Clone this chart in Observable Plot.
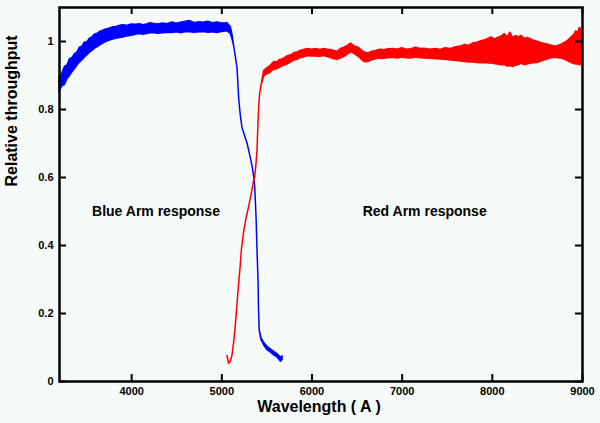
<!DOCTYPE html>
<html>
<head>
<meta charset="utf-8">
<script src="https://cdn.jsdelivr.net/npm/d3@7"></script>
<script src="https://cdn.jsdelivr.net/npm/@observablehq/plot@0.6"></script>
<style>
  html, body { margin: 0; padding: 0; background: #f6fbf9; }
</style>
</head>
<body>
<div id="chart"></div>
<script>
// Blue arm: wavelength, lower and upper envelope of the noisy trace
const blueWl = [3200,3230,3260,3290,3315,3345,3370,3400,3426,3455,3480,3510,3537,3565,3590,3620,3648,3675,3700,3730,3759,3795,3830,3870,3908,3950,4000,4045,4092,4130,4170,4210,4241,4290,4350,4400,4450,4500,4550,4600,4650,4700,4750,4800,4850,4900,4950,5000,5063,5100,5120,5137,5155,5174,5193,5211,5230,5260,5285,5315,5341,5360,5370,5385,5396,5407,5412,5420,5440,5470,5507,5550,5581,5620,5656,5674];
const blueLo = [0.850,0.868,0.872,0.890,0.898,0.910,0.918,0.930,0.938,0.945,0.952,0.960,0.967,0.972,0.978,0.983,0.988,0.992,0.996,1.000,1.003,1.006,1.008,1.010,1.012,1.015,1.017,1.020,1.022,1.020,1.022,1.024,1.025,1.023,1.024,1.026,1.025,1.027,1.024,1.028,1.027,1.026,1.027,1.028,1.026,1.027,1.025,1.028,1.030,1.022,1.005,0.986,0.955,0.922,0.830,0.780,0.745,0.720,0.700,0.665,0.632,0.600,0.573,0.484,0.386,0.298,0.220,0.150,0.122,0.106,0.092,0.084,0.077,0.070,0.058,0.063];
const blueHi = [0.895,0.905,0.925,0.930,0.948,0.952,0.962,0.968,0.982,0.985,0.997,0.998,1.008,1.012,1.020,1.022,1.028,1.030,1.034,1.036,1.038,1.042,1.043,1.046,1.048,1.046,1.050,1.049,1.051,1.048,1.050,1.054,1.052,1.050,1.053,1.051,1.056,1.052,1.055,1.058,1.060,1.054,1.057,1.055,1.058,1.054,1.056,1.053,1.054,1.042,1.018,0.986,0.955,0.922,0.830,0.780,0.745,0.720,0.700,0.665,0.632,0.600,0.573,0.484,0.386,0.298,0.220,0.150,0.128,0.113,0.102,0.093,0.087,0.080,0.070,0.074];

// Red arm
const redWl = [5063,5081,5100,5118,5137,5156,5175,5193,5210,5222,5248,5275,5304,5335,5358,5370,5385,5396,5407,5415,5425,5440,5470,5500,5540,5581,5610,5640,5670,5693,5720,5750,5780,5804,5840,5870,5910,5952,6000,6040,6090,6137,6175,6210,6250,6285,6320,6360,6400,6433,6460,6490,6526,6570,6600,6630,6660,6711,6760,6800,6850,6900,6950,7000,7050,7100,7156,7200,7250,7310,7378,7430,7480,7540,7600,7650,7700,7740,7785,7830,7870,7920,7960,7989,8030,8060,8100,8137,8170,8200,8230,8260,8300,8322,8360,8400,8450,8507,8550,8600,8650,8693,8730,8760,8804,8840,8878,8910,8930,8950,8970,8990,9000];
const redLo = [0.075,0.052,0.058,0.075,0.115,0.165,0.230,0.290,0.340,0.386,0.440,0.480,0.515,0.555,0.590,0.600,0.640,0.681,0.760,0.810,0.845,0.870,0.897,0.903,0.908,0.917,0.918,0.922,0.926,0.929,0.931,0.936,0.940,0.944,0.946,0.951,0.953,0.957,0.956,0.956,0.955,0.957,0.954,0.951,0.948,0.946,0.950,0.955,0.962,0.968,0.965,0.960,0.953,0.942,0.939,0.940,0.944,0.948,0.950,0.949,0.951,0.952,0.950,0.953,0.951,0.950,0.953,0.951,0.950,0.949,0.948,0.947,0.946,0.944,0.943,0.941,0.940,0.938,0.938,0.937,0.936,0.937,0.935,0.936,0.933,0.932,0.930,0.931,0.926,0.928,0.925,0.929,0.931,0.935,0.930,0.933,0.936,0.937,0.942,0.946,0.950,0.952,0.951,0.950,0.947,0.942,0.937,0.934,0.932,0.933,0.930,0.932,0.935];
const redHi = [0.075,0.052,0.058,0.075,0.115,0.165,0.230,0.290,0.340,0.386,0.440,0.480,0.515,0.555,0.590,0.600,0.640,0.681,0.760,0.810,0.845,0.870,0.914,0.920,0.928,0.940,0.938,0.945,0.947,0.950,0.955,0.958,0.960,0.966,0.968,0.972,0.975,0.978,0.976,0.978,0.975,0.978,0.976,0.975,0.972,0.970,0.978,0.982,0.988,0.994,0.988,0.984,0.980,0.970,0.966,0.965,0.969,0.972,0.976,0.974,0.977,0.978,0.976,0.980,0.976,0.977,0.982,0.978,0.979,0.976,0.978,0.975,0.980,0.978,0.983,0.985,0.990,0.987,0.994,0.996,1.000,1.004,1.008,1.012,1.006,1.010,1.014,1.022,1.012,1.026,1.010,1.016,1.012,1.017,1.008,1.010,1.004,0.999,0.995,0.992,0.988,0.985,0.987,0.990,0.996,1.002,1.012,1.020,1.030,1.025,1.040,1.036,1.033];

// Axis ticks and annotations
const xTicks = [4000,5000,6000,7000,8000,9000];
const yTicks = [0,0.2,0.4,0.6,0.8,1];
const noteText = ["Blue Arm response","Red Arm response"];
const noteX = [4270,7250];
const noteY = [0.5,0.5];
const xLabel = "Wavelength ( A )";
const yLabel = "Relative throughput";

const xMin = 3200, xMax = 9000, yMin = 0, yMax = 1.1;

const blue = blueWl.map((w,i)=>({w, lo: blueLo[i], hi: blueHi[i]}));
const red = redWl.map((w,i)=>({w, lo: redLo[i], hi: redHi[i]}));
const notes = noteText.map((t,i)=>({t, x: noteX[i], y: noteY[i]}));

const BLUE = "#0000ff", RED = "#ff0000";
const font = "'Liberation Sans', Arial, Helvetica, sans-serif";

const chart = Plot.plot({
  width: 600,
  height: 423,
  marginLeft: 59,
  marginRight: 18,
  marginTop: 7,
  marginBottom: 42,
  x: {domain: [xMin, xMax]},
  y: {domain: [yMin, yMax]},
  style: {background: "#f6fbf9", fontFamily: font, color: "black"},
  marks: [
    Plot.areaY(blue, {x: "w", y1: "lo", y2: "hi", fill: BLUE, stroke: BLUE, strokeWidth: 1.5}),
    Plot.areaY(red, {x: "w", y1: "lo", y2: "hi", fill: RED, stroke: RED, strokeWidth: 1.5}),
    Plot.text(notes, {x: "x", y: "y", text: "t", fontSize: 14, fontWeight: "bold", fill: "black"}),
    // inward tick marks on all four sides (pixel insets leave ~7px ticks)
    Plot.ruleX(xTicks, {x: d => d, insetTop: 367, stroke: "black", strokeWidth: 2}),
    Plot.ruleX(xTicks, {x: d => d, insetBottom: 367, stroke: "black", strokeWidth: 2}),
    Plot.ruleY(yTicks, {y: d => d, insetRight: 516, stroke: "black", strokeWidth: 2}),
    Plot.ruleY(yTicks, {y: d => d, insetLeft: 516, stroke: "black", strokeWidth: 2}),
    Plot.axisX(xTicks, {anchor: "bottom", tickSize: 0, tickPadding: 6, fontSize: 11, fontWeight: "bold", label: null, tickFormat: d => String(d)}),
    Plot.axisY(yTicks, {anchor: "left", tickSize: 0, tickPadding: 6, fontSize: 11, fontWeight: "bold", label: null, tickFormat: d => String(d)}),
    Plot.frame({stroke: "black", strokeWidth: 2.5}),
    Plot.text([xLabel], {frameAnchor: "bottom", dy: 30, dx: -2, fontSize: 16, fontWeight: "bold", fill: "black"}),
    Plot.text([yLabel], {frameAnchor: "left", rotate: -90, dx: -48, dy: -8, fontSize: 16, fontWeight: "bold", fill: "black"})
  ]
});
document.getElementById("chart").appendChild(chart);
</script>
</body>
</html>
